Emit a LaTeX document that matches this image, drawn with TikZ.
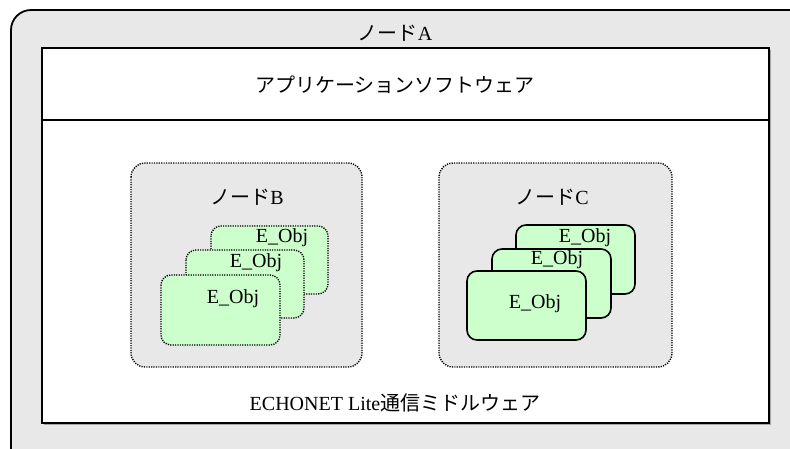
\documentclass[tikz,border=0pt]{standalone}
\usepackage{fontspec}
\setmainfont{Liberation Serif}
\newfontfamily\jafont{Noto Sans CJK JP}
\definecolor{panelgray}{HTML}{E8E8E8}
\definecolor{objgreen}{HTML}{CCFFCC}

\begin{document}
\begin{tikzpicture}[x=1pt,y=-1pt,
  every node/.style={font=\fontsize{20}{22}\selectfont, inner sep=0pt},
  outerbox/.style={draw, line width=1.8pt, fill=panelgray, rounded corners=20pt},
  grpbox/.style={draw, line width=1.4pt, dash pattern=on 1.2pt off 1.2pt, fill=panelgray, rounded corners=14pt},
  objdotted/.style={draw, line width=1.4pt, dash pattern=on 1.2pt off 1.2pt, fill=objgreen, rounded corners=10pt},
  objsolid/.style={draw, line width=1.6pt, fill=objgreen, rounded corners=10pt}]
\useasboundingbox (0,0) rectangle (790,448);
\clip (0,0) rectangle (790,448);

% node A, outer frame
\draw[outerbox] (11,10) rectangle (810,470);
\node (labelA) at (395,33) {{\jafont ノード}A};

% middleware / application area
\fill[gray!70] (44,50) rectangle (771,425);
\draw[line width=1.7pt, fill=white] (42,48) rectangle (769,423);
\draw[line width=1.7pt] (42,120) -- (769,120);
\node (app) at (395,85) {\jafont アプリケーションソフトウェア};
\node (mw) at (395,403) {ECHONET Lite{\jafont 通信ミドルウェア}};

% node B
\draw[grpbox] (131,163) rectangle (362,367);
\node (labelB) at (247,197) {{\jafont ノード}B};
\draw[objdotted] (211,226) rectangle (328,294);
\node (objB3) at (282,238) {E\_Obj};
\draw[objdotted] (186,250) rectangle (304,318);
\node (objB2) at (256,263) {E\_Obj};
\draw[objdotted] (161,275) rectangle (280,345);
\node (objB1) at (233,299) {E\_Obj};

% node C
\draw[grpbox] (439,163) rectangle (672,367);
\node (labelC) at (552,197) {{\jafont ノード}C};
\draw[objsolid] (516,225) rectangle (635,294);
\node (objC3) at (585,238) {E\_Obj};
\draw[objsolid] (492,249) rectangle (611,318);
\node (objC2) at (557,260) {E\_Obj};
\draw[objsolid] (467,271) rectangle (586,340);
\node (objC1) at (535,304) {E\_Obj};
\end{tikzpicture}
\end{document}
